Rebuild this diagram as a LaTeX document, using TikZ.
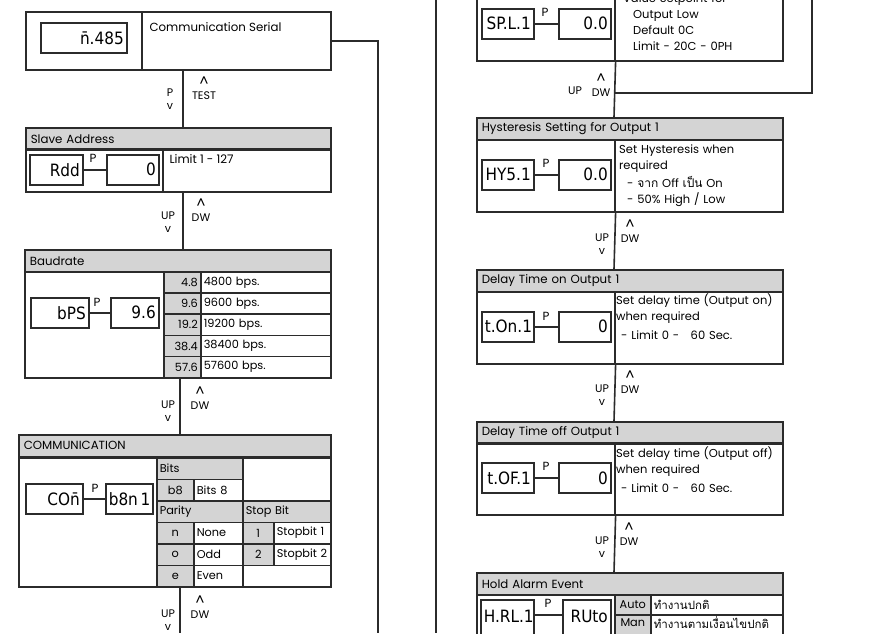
\documentclass[tikz,border=0pt]{standalone}
\usepackage{fontspec}
\newfontfamily\thaifont[Script=Thai]{Loma}
\newfontfamily\segfont{DejaVu Sans Condensed}
\newfontfamily\gothic{Poppins}
\newcommand\lbltxt{\gothic\fontsize{11.8}{14}\selectfont}
\newcommand\segtxt{\segfont\fontsize{17}{17}\selectfont}
\newcommand\caret{{\fontsize{14}{10}\selectfont\textasciicircum}}
\definecolor{linec}{HTML}{2B2B2B}
\definecolor{hdrgray}{HTML}{D4D4D4}

\begin{document}
\begin{tikzpicture}[
  x=1pt, y=-1pt,
  every node/.style={font=\lbltxt},
  box/.style 2 args={draw=linec, line width=1.6pt, anchor=north west, minimum width=#1, minimum height=#2, inner sep=0pt},
  hdr/.style={draw=linec, line width=1.6pt, fill=hdrgray, anchor=north west, minimum width=#1, minimum height=22pt, inner xsep=5pt, inner ysep=0pt, text width=#1-10pt, align=left},
  disp/.style={draw=linec, line width=1.6pt, anchor=north west, minimum width=#1, minimum height=30pt, inner xsep=3pt, inner ysep=0pt, text width=#1-6pt, align=right, font=\segtxt},
  gcell/.style={draw=linec, line width=1.6pt, fill=hdrgray, anchor=north west, minimum width=#1, minimum height=21.5pt, inner sep=0pt, font=\gothic\fontsize{11.3}{13}\selectfont},
  gcellr/.style={gcell=#1, inner xsep=3pt, text width=#1-6pt, align=right},
  gcelll/.style={gcell=#1, inner xsep=3pt, text width=#1-6pt, align=left},
  wcell/.style={draw=linec, line width=1.6pt, fill=white, anchor=north west, minimum width=#1, minimum height=21.5pt, inner xsep=3pt, inner ysep=0pt, text width=#1-6pt, align=left, font=\gothic\fontsize{11.3}{13}\selectfont},
  txtblk/.style={anchor=base west, inner sep=0pt, text width=180pt, align=left, font=\gothic\fontsize{11.5}{16}\selectfont},
  lbl/.style={align=center, inner sep=0pt, font=\gothic\fontsize{11}{12.5}\selectfont},
  conn/.style={draw=linec, line width=1.6pt}
]
  \useasboundingbox (0,0) rectangle (872,633);
  \clip (0,0) rectangle (872,633);

  % ---------- left column ----------
  % Communication Serial
  \node[box={116}{58}] (serL) at (25,11) {};
  \node[box={189}{58}] (serR) at (141,11) {};
  \node[disp=86] (serD) at (40,22) {\={n}.485};
  \node[anchor=west] (serT) at (146,27) {Communication Serial};
  \node[lbl] (s1P) at (170,99) {P\\v};
  \node[lbl] (s1T) at (204,88) {\caret\\TEST};

  % Slave Address
  \node[hdr=305] (adrH) at (25,127) {Slave Address};
  \node[box={137}{43}] (adrL) at (25,148) {};
  \node[box={168}{43}] (adrR) at (162,148) {};
  \node[disp=53] (adrD) at (29,154) {Rdd};
  \node[disp=52] (adrV) at (106,154) {0};
  \node (adrP) at (93,158) {P};
  \node[anchor=west] (adrT) at (166,159) {Limit 1 - 127};
  \node[lbl] (s2U) at (168,222) {UP\\v};
  \node[lbl] (s2D) at (201,210) {\caret\\DW};

  % Baudrate
  \node[hdr=306] (bauH) at (24,249) {Baudrate};
  \node[box={139}{106}] (bauL) at (24,271) {};
  \foreach \v/\t [count=\i from 0] in {4.8/4800, 9.6/9600, 19.2/19200, 38.4/38400, 57.6/57600} {
    \node[gcellr=37, minimum height=21.2pt] (bauG\i) at (163,{271+21.2*\i}) {\v};
    \node[wcell=130, minimum height=21.2pt] (bauW\i) at (200,{271+21.2*\i}) {\t\ bps.};
  }
  \node[disp=58] (bauD) at (30,297) {bPS};
  \node[disp=48] (bauV) at (110,297) {9.6};
  \node (bauP) at (97,302) {P};
  \node[lbl] (s3U) at (168,411) {UP\\v};
  \node[lbl] (s3D) at (200,398) {\caret\\DW};

  % COMMUNICATION
  \node[hdr=312] (comH) at (18,434) {COMMUNICATION};
  \node[box={138}{129}] (comL) at (18,457) {};
  \node[gcelll=86] (bitsH) at (156,457) {Bits};
  \node[box={88}{43}, fill=white] (bitsE) at (242,457) {};
  \node[gcell=37] (bitsK) at (156,478.5) {b8};
  \node[wcell=49] (bitsT) at (193,478.5) {Bits 8};
  \node[gcelll=86] (parH) at (156,500) {Parity};
  \node[gcelll=88] (stpH) at (242,500) {Stop Bit};
  \foreach \k/\t [count=\i from 0] in {n/None, o/Odd, e/Even} {
    \node[gcell=37] (par\k) at (156,{521.5+21.5*\i}) {\k};
    \node[wcell=49] (parT\k) at (193,{521.5+21.5*\i}) {\t};
  }
  \foreach \k [count=\i from 0] in {1,2} {
    \node[gcell=31] (stp\k) at (242,{521.5+21.5*\i}) {\k};
    \node[wcell=57, inner xsep=1.5pt] (stpT\k) at (273,{521.5+21.5*\i}) {\mbox{Stopbit \k}};
  }
  \node[box={88}{21.5}, fill=white] (stpE) at (242,564.5) {};
  \node[disp=57] (comD) at (25,483) {CO\={n}};
  \node[disp=47, inner xsep=1pt] (comV) at (105,483) {\mbox{b8n\,1}};
  \node (comP) at (95,488) {P};
  \node[lbl] (s4U) at (168,620) {UP\\v};
  \node[lbl] (s4D) at (200,607) {\caret\\DW};

  % ---------- right column ----------
  % Setpoint Low
  \node[box={138}{90}] (splL) at (476,-30) {};
  \node[box={168}{90}] (splR) at (614,-30) {};
  \node[disp=52, inner xsep=1pt] (splD) at (481,8) {\mbox{SP.L.1}};
  \node[disp=52] (splV) at (558,8) {0.0};
  \node (splP) at (545,12) {P};
  \node[txtblk] (splT) at (623,2) {Value Setpoint for\\\hspace*{10pt}Output Low\\\hspace*{10pt}Default 0C\\\hspace*{10pt}Limit - 20C - 0PH};
  \node[lbl] (r1U) at (575,91) {UP};
  \node[lbl] (r1D) at (601,85) {\caret\\DW};

  % Hysteresis
  \node[hdr=306] (hysH) at (476,117) {Hysteresis Setting for Output 1};
  \node[box={138}{72}] (hysL) at (476,139) {};
  \node[box={168}{72}] (hysR) at (614,139) {};
  \node[disp=52, inner xsep=1pt] (hysD) at (481,159) {\mbox{HY5.1}};
  \node[disp=52] (hysV) at (558,159) {0.0};
  \node (hysP) at (546,163) {P};
  \node[txtblk] (hysT) at (619,153) {Set Hysteresis when\\required\\[2pt]
    \hspace*{8pt}- {\thaifont\fontsize{12}{16}\selectfont จาก} Off {\thaifont\fontsize{12}{16}\selectfont เป็น} On\\\hspace*{8pt}- 50\% High / Low};
  \node[lbl] (r2U) at (602,244) {UP\\v};
  \node[lbl] (r2D) at (630,231) {\caret\\DW};

  % Delay on
  \node[hdr=306] (donH) at (476,269) {Delay Time on Output 1};
  \node[box={138}{72}] (donL) at (476,291) {};
  \node[box={168}{72}] (donR) at (614,291) {};
  \node[disp=52, inner xsep=1pt] (donD) at (481,311) {\mbox{t.On.1}};
  \node[disp=52] (donV) at (558,311) {0};
  \node (donP) at (546,316) {P};
  \node[txtblk] (donT) at (616,304) {Set delay time (Output on)\\when required\\[3pt]\hspace*{5pt}- Limit 0 - \ \ 60 Sec.};
  \node[lbl] (r3U) at (602,395) {UP\\v};
  \node[lbl] (r3D) at (630,382) {\caret\\DW};

  % Delay off
  \node[hdr=306] (dofH) at (476,421) {Delay Time off Output 1};
  \node[box={138}{72}] (dofL) at (476,442) {};
  \node[box={168}{72}] (dofR) at (614,442) {};
  \node[disp=52, inner xsep=1pt] (dofD) at (481,462) {\mbox{t.OF.1}};
  \node[disp=52] (dofV) at (558,462) {0};
  \node (dofP) at (546,466) {P};
  \node[txtblk] (dofT) at (616,457) {Set delay time (Output off)\\when required\\[3pt]\hspace*{5pt}- Limit 0 - \ \ 60 Sec.};
  \node[lbl] (r4U) at (602,547) {UP\\v};
  \node[lbl] (r4D) at (629,534) {\caret\\DW};

  % Hold Alarm Event
  \node[hdr=306] (halH) at (476,572) {Hold Alarm Event};
  \node[box={138}{60}] (halL) at (476,594) {};
  \node[disp=53, minimum height=38pt, inner xsep=1pt, text depth=6pt] (halD) at (480,599) {\mbox{H.RL.1}};
  \node[disp=48, minimum height=38pt, inner xsep=1pt, text depth=6pt] (halV) at (562,599) {\mbox{RUto}};
  \node (halP) at (548,603) {P};
  \node[gcell=36, minimum height=20pt] (halA) at (614,594) {Auto};
  \node[wcell=132, minimum height=20pt, font=\thaifont\fontsize{11.5}{13}\selectfont] (halAT) at (650,594) {ทำงานปกติ};
  \node[gcell=36, minimum height=24pt, text depth=8pt] (halM) at (614,614) {Man};
  \node[wcell=132, minimum height=24pt, text depth=8pt, font=\thaifont\fontsize{11.5}{13}\selectfont] (halMT) at (650,614) {ทำงานตามเงื่อนไขปกติ};

  % ---------- connectors ----------
  \coordinate (colL) at (183,0);
  \coordinate (colM) at (180,0);
  \coordinate (colR) at (614,0);
  \draw[conn] (serL.south -| colL) -- (adrH.north -| colL);
  \draw[conn] (adrL.south -| colL) -- (bauH.north -| colL);
  \draw[conn] (bauL.south -| colM) -- (comH.north -| colM);
  \coordinate (lEnd) at (180,633);
  \draw[conn] (comL.south -| colM) -- (lEnd);
  \draw[conn] (adrD) -- (adrV);
  \draw[conn] (bauD) -- (bauV);
  \draw[conn] (comD) -- (comV);
  % return line of the serial menu
  \coordinate (serRet) at (378,633);
  \draw[conn] (serR.east) -| (serRet);
  \coordinate (rTop) at (436,0);
  \coordinate (rBot) at (436,633);
  \draw[conn] (rTop) -- (rBot);

  \draw[conn] (splL.south east) -- (hysH.north -| colR);
  \coordinate (r1j) at (614,93);
  \coordinate (rLoop) at (812,0);
  \draw[conn] (r1j) -| (rLoop);
  \draw[conn] (hysL.south east) -- (donH.north -| colR);
  \draw[conn] (donL.south east) -- (dofH.north -| colR);
  \draw[conn] (dofL.south east) -- (halH.north -| colR);
  \draw[conn] (splD) -- (splV);
  \draw[conn] (hysD) -- (hysV);
  \draw[conn] (donD) -- (donV);
  \draw[conn] (dofD) -- (dofV);
  \coordinate (halJ) at (0,615);
  \draw[conn] (halD.east |- halJ) -- (halV.west |- halJ);
\end{tikzpicture}
\end{document}
